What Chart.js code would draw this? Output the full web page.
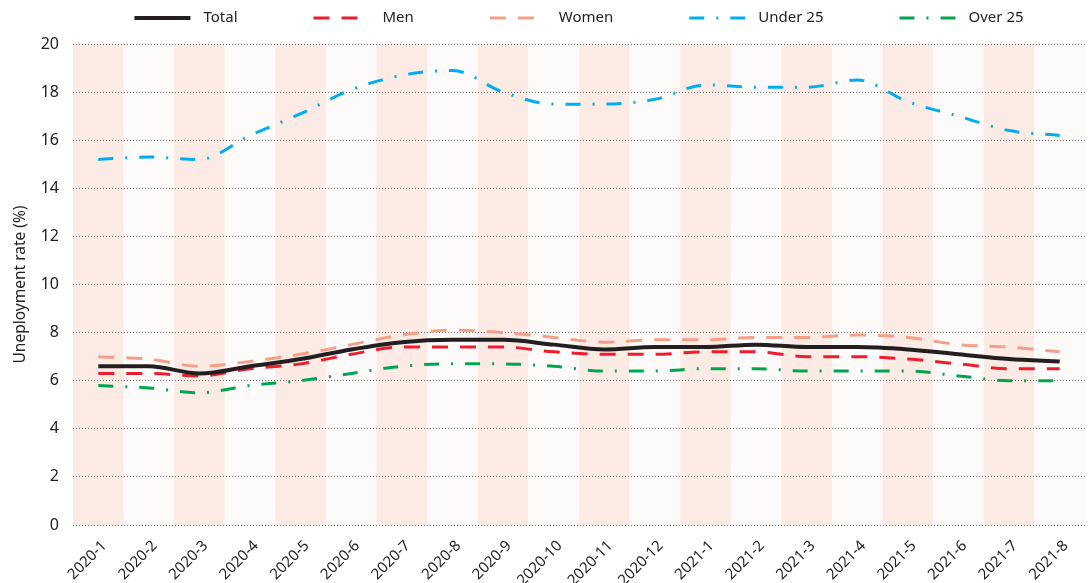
<!DOCTYPE html>
<html>
<head>
<meta charset="utf-8">
<script src="https://cdn.jsdelivr.net/npm/chart.js@4.4.1/dist/chart.umd.min.js"></script>
<style>
  html, body { margin: 0; padding: 0; background: #fff; }
  .chart-wrapper { position: relative; width: 1088px; height: 583px; }
</style>
</head>
<body>
<div class="chart-wrapper">
  <canvas id="chart"></canvas>
</div>
<script>
const months = [
  '2020-1', '2020-2', '2020-3', '2020-4', '2020-5', '2020-6', '2020-7', '2020-8', '2020-9', '2020-10',
  '2020-11', '2020-12', '2021-1', '2021-2', '2021-3', '2021-4', '2021-5', '2021-6', '2021-7', '2021-8'
];
const total   = [6.6, 6.6, 6.3, 6.6, 6.9, 7.3, 7.6, 7.7, 7.7, 7.5, 7.3, 7.4, 7.4, 7.5, 7.4, 7.4, 7.3, 7.1, 6.9, 6.8];
const men     = [6.3, 6.3, 6.2, 6.5, 6.7, 7.1, 7.4, 7.4, 7.4, 7.2, 7.1, 7.1, 7.2, 7.2, 7.0, 7.0, 6.9, 6.7, 6.5, 6.5];
const women   = [7.0, 6.9, 6.6, 6.8, 7.1, 7.5, 7.9, 8.1, 8.0, 7.8, 7.6, 7.7, 7.7, 7.8, 7.8, 7.9, 7.8, 7.5, 7.4, 7.2];
const under25 = [15.2, 15.3, 15.2, 16.2, 17.1, 18.1, 18.7, 18.9, 18.0, 17.5, 17.5, 17.7, 18.3, 18.2, 18.2, 18.5, 17.6, 17.0, 16.4, 16.2];
const over25  = [5.8, 5.7, 5.5, 5.8, 6.0, 6.3, 6.6, 6.7, 6.7, 6.6, 6.4, 6.4, 6.5, 6.5, 6.4, 6.4, 6.4, 6.2, 6.0, 6.0];
const yTicks  = [0, 2, 4, 6, 8, 10, 12, 14, 16, 18, 20];

const FONT = "'Noto Sans', sans-serif";
const TEXT = '#222';

// alternating column bands behind the plot
const bandsPlugin = {
  id: 'bands',
  beforeDraw(chart) {
    const { ctx, chartArea, scales: { x } } = chart;
    const w = (chartArea.right - chartArea.left) / months.length;
    ctx.save();
    months.forEach((m, i) => {
      const cx = x.getPixelForValue(i);
      ctx.fillStyle = i % 2 === 0 ? '#fceae4' : '#fdfbfa';
      ctx.fillRect(cx - w / 2, chartArea.top, w, chartArea.bottom - chartArea.top);
    });
    ctx.restore();
  }
};

// legend row with wide spacing, drawn from the dataset styles
const legendRow = {
  id: 'legendRow',
  afterDraw(chart) {
    const { ctx, chartArea } = chart;
    const sample = 56, textGap = 13, itemGap = 76, y = 18;
    ctx.save();
    ctx.font = '15px ' + FONT;
    const items = chart.data.datasets.map(ds => ({ ds, tw: ctx.measureText(ds.label).width }));
    const full = items.reduce((s, it) => s + sample + textGap + it.tw, 0) + itemGap * (items.length - 1);
    let x = (chartArea.left + chartArea.right) / 2 - full / 2;
    items.forEach(({ ds, tw }) => {
      ctx.strokeStyle = ds.borderColor;
      ctx.lineWidth = ds.borderWidth;
      ctx.setLineDash(ds.borderDash || []);
      ctx.beginPath();
      ctx.moveTo(x, y);
      ctx.lineTo(x + sample, y);
      ctx.stroke();
      ctx.setLineDash([]);
      ctx.fillStyle = TEXT;
      ctx.textBaseline = 'middle';
      ctx.fillText(ds.label, x + sample + textGap, y);
      x += sample + textGap + tw + itemGap;
    });
    ctx.restore();
  }
};

new Chart(document.getElementById('chart'), {
  type: 'line',
  data: {
    labels: months,
    datasets: [
      { label: 'Total', data: total, borderColor: '#231f20', borderWidth: 4 },
      { label: 'Men', data: men, borderColor: '#ed1c2e', borderWidth: 3, borderDash: [16, 12] },
      { label: 'Women', data: women, borderColor: '#f59f88', borderWidth: 3, borderDash: [16, 12] },
      { label: 'Under 25', data: under25, borderColor: '#00aeef', borderWidth: 3, borderDash: [15, 12, 2, 12] },
      { label: 'Over 25', data: over25, borderColor: '#00a650', borderWidth: 3, borderDash: [15, 12, 2, 12] }
    ]
  },
  options: {
    responsive: true,
    maintainAspectRatio: false,
    animation: false,
    layout: { padding: { top: 44, right: 3, left: 0, bottom: 0 } },
    elements: {
      point: { radius: 0 },
      line: { cubicInterpolationMode: 'monotone', fill: false }
    },
    plugins: {
      legend: { display: false },
      tooltip: { enabled: false }
    },
    scales: {
      x: {
        offset: true,
        grid: { display: false, drawTicks: false },
        border: { display: false },
        ticks: {
          color: TEXT,
          font: { family: FONT, size: 15 },
          minRotation: 45,
          maxRotation: 45,
          padding: 12,
          labelOffset: 6,
          autoSkip: false
        },
        afterFit(s) { s.height = 58; }
      },
      y: {
        min: 0,
        max: 20,
        afterBuildTicks(s) { s.ticks = yTicks.map(v => ({ value: v })); },
        grid: { color: '#6d6d6d', lineWidth: 1, drawTicks: false },
        border: { display: false, dash: [1, 2] },
        ticks: {
          color: TEXT,
          font: { family: FONT, size: 16 },
          padding: 14
        },
        title: {
          display: true,
          text: 'Uneployment rate (%)',
          color: TEXT,
          font: { family: FONT, size: 15.5 },
          padding: { top: 11, bottom: 0 }
        },
        afterFit(s) { s.width = 73; }
      }
    }
  },
  plugins: [bandsPlugin, legendRow]
});
</script>
</body>
</html>
